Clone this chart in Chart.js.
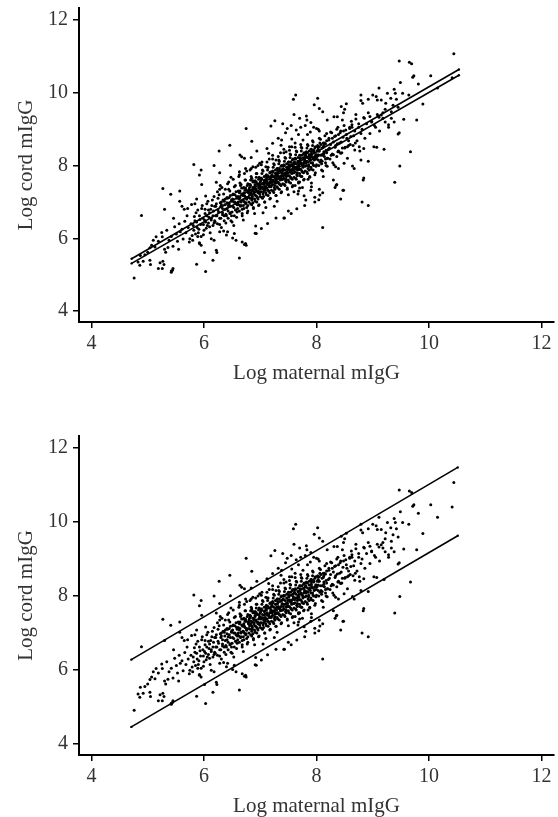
<!DOCTYPE html>
<html>
<head>
<meta charset="utf-8">
<script src="https://cdn.jsdelivr.net/npm/chart.js@4/dist/chart.umd.min.js"></script>
<style>
  html, body { margin: 0; padding: 0; background: #fff; width: 558px; height: 817px; overflow: hidden; }
  canvas { position: absolute; left: 0; }
  #topChart { top: 0; }
  #bottomChart { top: 400px; }
</style>
</head>
<body>
<canvas id="topChart" width="558" height="400"></canvas>
<canvas id="bottomChart" width="558" height="430"></canvas>
<script>
// ── Dati ──────────────────────────────────────
const xTicks = [4, 6, 8, 10, 12];
const yTicks = [4, 6, 8, 10, 12];
const xTitle = 'Log maternal mIgG';
const yTitle = 'Log cord mIgG';

// coda bassa (x < 5.4)
const lowTail = [
  [4.76,4.91],[4.89,6.63],[4.83,5.35],[4.86,5.26],[4.87,5.53],[4.95,5.55],[4.92,5.37],[5.04,5.40],
  [5.05,5.28],[5.04,5.74],[5.07,5.81],[5.13,5.76],[5.15,6.04],[5.19,5.92],[5.25,6.16],[5.26,6.04],
  [5.22,5.33],[5.27,5.37],[5.29,5.28],[5.19,5.17],[5.26,5.17],[5.42,5.07],[5.44,5.12],[5.27,7.37],
  [5.30,6.80],[5.41,7.21],[5.32,5.62],[5.36,5.75],[5.38,5.95],[5.34,6.22],[5.10,5.95],[5.00,5.62]
];

// punti sparsi attorno alla nuvola
const midScatter = [
  [5.57,7.30],[5.57,7.02],[5.61,6.88],[5.71,6.82],[5.78,6.93],[5.87,7.08],[5.96,7.48],[6.03,7.16],
  [6.22,7.54],[6.28,7.35],[5.30,5.70],[5.87,5.29],[6.03,5.09],[6.16,5.40],[6.22,5.67],[6.23,5.61],
  [6.63,5.46],[6.01,5.61],[5.92,5.86],[5.95,5.81],[5.75,5.99],[6.13,5.99],[6.18,5.95],[6.28,6.18],
  [6.40,6.09],[6.42,6.18],[6.51,6.01],[6.54,6.13],[6.57,5.95],[6.68,5.90],[6.72,5.83],[6.75,5.81],
  [6.74,5.86],[6.91,6.14],[6.92,6.34],[6.93,6.13],[7.02,6.27],[7.13,6.41],[7.28,6.56],[7.43,6.56],
  [7.55,6.68],[5.45,5.17],[5.42,5.10]
];

const upperScatter = [
  [5.82,8.03],[5.95,7.88],[5.92,7.74],[6.18,8.00],[6.28,7.80],[6.27,8.40],[6.46,8.56],[6.47,8.01],
  [6.64,8.29],[6.67,8.24],[6.75,9.02],[6.85,8.67],[6.84,8.22],[6.94,8.40],[7.19,9.09],[7.26,9.23],
  [7.32,8.75],[7.38,8.70],[7.22,8.61],[7.56,8.73],[7.59,9.82],[7.63,9.94],[6.72,8.20],[7.12,8.47],
  [7.15,8.34],[7.37,8.56],[7.46,8.38],[7.52,8.52],[6.99,8.06],[7.10,7.97],[7.28,8.15],[6.87,7.97],
  [6.74,7.92],[6.63,7.83],
  [8.02,9.85],[7.82,9.36],[7.96,9.67],[8.05,9.57],[8.11,9.48],[8.19,9.25],[8.31,9.34],[8.37,9.34],
  [8.44,9.62],[8.50,9.55],[8.53,9.70],[8.48,9.45],[8.79,9.94],[8.79,9.79],[8.82,9.71],[8.92,9.82],
  [9.00,9.94],[9.06,9.90],[9.08,9.80],[8.70,9.40],[8.62,9.22],[8.75,9.15],[8.85,9.30],[8.95,9.35],
  [8.98,9.20],[9.05,9.05],[9.11,9.33],[9.15,9.39],[9.18,9.45],[9.22,9.20],[9.28,9.12],[9.33,9.30],
  [7.64,8.98],[7.68,8.85],[7.72,9.05],[7.80,9.10],[7.83,9.25],[7.90,9.18],[7.95,9.05],[7.89,8.92],
  [8.00,9.02],[8.05,8.95],[7.55,9.10],[7.48,9.02],[7.45,8.90],[7.40,9.15],[7.70,9.30],[7.60,9.40]
];

const highTail = [
  [10.44,11.07],[9.47,10.87],[9.65,10.84],[9.69,10.80],[9.73,10.47],[9.71,10.43],[10.03,10.47],
  [10.41,10.41],[10.15,10.13],[9.89,9.69],[9.49,10.28],[9.81,10.24],[9.78,9.25],[9.55,9.27],
  [9.67,8.38],[9.45,8.87],[9.47,8.90],[9.48,7.99],[9.11,10.13],[9.26,9.99],[9.38,10.10],[9.40,9.99],
  [9.53,9.99],[9.64,9.94],[9.23,9.71],[9.36,9.66],[9.42,9.82],[9.32,9.85],[9.15,9.80],[9.39,7.54],
  [9.20,8.45],[9.07,8.50],[9.02,8.52]
];

const lowerScatter = [
  [8.55,8.52],[8.68,8.43],[8.76,8.52],[8.84,8.47],[8.79,8.15],[8.64,7.99],[8.67,7.92],[8.92,8.12],
  [8.43,8.34],[8.49,8.06],[8.34,7.97],[8.39,7.92],[8.83,7.60],[8.84,7.66],[8.81,7.00],[8.92,6.90],
  [8.48,7.32],[8.43,7.08],[8.36,7.48],[8.33,7.40],[8.30,7.60],[8.11,6.30],[7.65,6.81],[7.79,6.90],
  [7.97,7.00],[8.04,7.06],[7.97,7.13],[7.81,7.05],[7.78,7.17],[8.11,7.25],[7.90,7.32],[8.05,7.35],
  [7.67,7.22],[7.68,7.30],[7.42,6.56],[7.50,6.75],[8.47,7.32],[8.35,7.46],[8.06,7.19],[7.91,7.42],
  [7.62,7.45],[7.70,7.55],[7.75,7.40],[7.85,7.62],[7.60,7.28],[7.73,7.70]
];

// nuvola centrale
const coreCloud = [
  [5.42,6.05],[5.45,5.78],[5.48,6.32],[5.51,6.12],[5.53,5.92],[5.56,6.40],[5.58,6.18],[5.46,6.55],[5.55,5.70],
  [5.61,6.25],[5.63,5.98],[5.66,6.47],[5.68,6.15],[5.70,6.62],[5.72,6.30],[5.74,5.90],[5.77,6.40],[5.79,6.08],[5.65,6.80],
  [5.81,6.35],[5.83,6.60],[5.85,6.12],[5.87,6.45],[5.89,6.78],[5.91,6.25],[5.93,6.52],[5.95,6.05],[5.97,6.90],[5.99,6.38],[5.84,6.95],[5.92,5.88],
  [6.01,6.50],[6.02,6.80],[6.04,6.28],[6.05,6.62],[6.07,7.02],[6.08,6.42],[6.10,6.70],[6.11,6.15],[6.13,6.55],[6.14,6.90],[6.16,6.35],[6.17,6.75],[6.18,7.15],[6.19,6.48],
  [6.21,6.62],[6.22,6.95],[6.24,6.40],[6.25,6.78],[6.27,7.20],[6.28,6.55],[6.30,6.88],[6.31,6.30],[6.33,6.70],[6.34,7.05],[6.36,6.48],[6.37,6.92],[6.38,7.35],[6.39,6.66],[6.29,7.45],[6.35,6.20],
  [6.41,6.82],[6.42,7.10],[6.43,6.55],[6.45,6.95],[6.46,7.30],[6.47,6.70],[6.49,7.05],[6.50,6.45],[6.51,6.88],[6.52,7.22],[6.54,6.62],[6.55,7.00],[6.56,7.45],[6.57,6.78],[6.58,7.15],[6.59,6.92],[6.44,7.55],[6.53,6.35],[6.48,7.68],
  [6.61,7.00],[6.62,7.28],[6.63,6.75],[6.64,7.12],[6.65,7.45],[6.66,6.90],[6.67,7.22],[6.68,6.62],[6.69,7.05],[6.70,7.38],[6.71,6.82],[6.72,7.18],[6.73,7.60],[6.74,6.95],[6.75,7.32],[6.76,7.08],[6.77,6.70],[6.78,7.50],[6.79,7.25],[6.63,7.75],[6.70,6.50],[6.76,7.85],
  [6.81,7.20],[6.82,7.48],[6.83,6.95],[6.84,7.32],[6.85,7.65],[6.86,7.10],[6.87,7.40],[6.88,6.82],[6.89,7.25],[6.90,7.55],[6.91,7.02],[6.92,7.36],[6.93,7.78],[6.94,7.15],[6.95,7.50],[6.96,7.28],[6.97,6.90],[6.98,7.68],[6.99,7.42],[6.84,7.92],[6.90,6.68],[6.96,8.00],[6.87,7.58],
  [7.01,7.38],[7.02,7.65],[7.03,7.12],[7.04,7.50],[7.05,7.85],[7.06,7.28],[7.07,7.58],[7.08,7.00],[7.09,7.42],[7.10,7.72],[7.11,7.20],[7.12,7.55],[7.13,7.95],[7.14,7.32],[7.15,7.68],[7.16,7.45],[7.17,7.08],[7.18,7.82],[7.19,7.60],[7.03,8.10],[7.10,6.85],[7.16,8.18],[7.07,7.35],[7.13,7.48],[7.05,6.70],
  [7.21,7.55],[7.22,7.85],[7.23,7.30],[7.24,7.70],[7.25,8.02],[7.26,7.45],[7.27,7.78],[7.28,7.18],[7.29,7.62],[7.30,7.92],[7.31,7.38],[7.32,7.72],[7.33,8.15],[7.34,7.50],[7.35,7.85],[7.36,7.62],[7.37,7.25],[7.38,8.00],[7.39,7.78],[7.22,8.28],[7.30,7.02],[7.36,8.35],[7.27,7.55],[7.33,7.66],[7.25,6.88],
  [7.41,7.72],[7.42,8.02],[7.43,7.48],[7.44,7.88],[7.45,8.20],[7.46,7.62],[7.47,7.95],[7.48,7.35],[7.49,7.80],[7.50,8.10],[7.51,7.55],[7.52,7.90],[7.53,8.32],[7.54,7.68],[7.55,8.02],[7.56,7.80],[7.57,7.42],[7.58,8.18],[7.59,7.95],[7.42,8.45],[7.50,7.20],[7.56,8.52],[7.47,7.72],[7.53,7.85],
  [7.61,7.90],[7.62,8.20],[7.63,7.65],[7.64,8.05],[7.65,8.38],[7.66,7.80],[7.67,8.12],[7.68,7.52],[7.69,7.98],[7.70,8.28],[7.71,7.72],[7.72,8.08],[7.73,8.50],[7.74,7.85],[7.75,8.20],[7.76,7.98],[7.77,7.60],[7.78,8.35],[7.79,8.12],[7.62,8.62],[7.70,7.38],[7.76,8.70],[7.67,7.92],
  [7.81,8.08],[7.82,8.38],[7.83,7.82],[7.84,8.22],[7.85,8.55],[7.86,7.98],[7.87,8.30],[7.88,7.68],[7.89,8.15],[7.90,8.45],[7.91,7.90],[7.92,8.25],[7.93,8.68],[7.94,8.02],[7.95,8.38],[7.96,8.15],[7.97,7.75],[7.98,8.52],[7.99,8.30],[7.84,8.85],[7.91,7.52],
  [8.01,8.25],[8.02,8.55],[8.04,8.00],[8.05,8.40],[8.07,8.72],[8.08,8.15],[8.10,8.48],[8.11,7.85],[8.13,8.32],[8.14,8.62],[8.16,8.08],[8.17,8.42],[8.18,8.88],[8.19,8.20],[8.03,9.00],[8.12,7.70],
  [8.21,8.45],[8.22,8.75],[8.24,8.18],[8.25,8.58],[8.27,8.90],[8.28,8.32],[8.30,8.65],[8.31,8.02],[8.33,8.50],[8.34,8.82],[8.36,8.25],[8.37,8.60],[8.38,9.05],[8.39,8.40],
  [8.41,8.62],[8.43,8.95],[8.45,8.35],[8.47,8.78],[8.49,9.10],[8.51,8.50],[8.53,8.85],[8.55,8.20],[8.57,8.68],[8.59,9.02],[8.46,9.25],
  [8.61,8.80],[8.63,9.12],[8.65,8.55],[8.68,8.95],[8.70,9.28],[8.72,8.68],[8.75,9.05],[8.77,8.40],[8.79,8.88],
  [8.81,9.00],[8.84,9.32],[8.86,8.75],[8.89,9.15],[8.92,9.45],[8.95,8.88],[8.98,9.22],
  [9.03,9.10],[9.08,9.40],[9.12,8.95],[9.18,9.30],[9.22,9.55],[9.28,9.05],[9.33,9.48],[9.38,9.20],[9.45,9.60]
];

// parte più densa della nuvola
const denseCore = [
  [6.31,6.92],[6.33,6.65],[6.36,7.02],[6.38,6.80],
  [6.41,6.98],[6.43,6.75],[6.45,7.12],[6.47,6.88],[6.49,6.62],
  [6.51,7.08],[6.53,6.85],[6.55,7.20],[6.57,6.95],[6.59,6.72],
  [6.61,7.15],[6.62,6.92],[6.64,7.30],[6.66,7.02],[6.68,6.80],[6.69,7.22],
  [6.71,7.25],[6.72,7.00],[6.74,7.38],[6.76,7.12],[6.78,6.90],[6.79,7.30],
  [6.80,7.35],[6.82,7.10],[6.83,7.45],[6.85,7.20],[6.87,6.98],[6.88,7.40],[6.89,7.28],
  [6.91,7.45],[6.92,7.18],[6.93,7.55],[6.95,7.30],[6.96,7.08],[6.98,7.50],[6.99,7.22],
  [7.00,7.55],[7.02,7.28],[7.03,7.62],[7.05,7.40],[7.06,7.15],[7.08,7.60],[7.09,7.32],
  [7.11,7.62],[7.12,7.38],[7.14,7.72],[7.15,7.50],[7.17,7.25],[7.18,7.68],[7.19,7.42],
  [7.20,7.72],[7.22,7.48],[7.23,7.82],[7.25,7.58],[7.26,7.35],[7.28,7.78],[7.29,7.52],
  [7.31,7.80],[7.32,7.55],[7.34,7.92],[7.35,7.68],[7.37,7.45],[7.38,7.88],[7.39,7.62],
  [7.40,7.90],[7.42,7.65],[7.43,8.00],[7.45,7.78],[7.46,7.55],[7.48,7.95],[7.49,7.72],
  [7.51,7.98],[7.52,7.72],[7.54,8.10],[7.55,7.85],[7.57,7.62],[7.58,8.05],[7.59,7.80],
  [7.60,8.08],[7.62,7.82],[7.63,8.18],[7.65,7.95],[7.66,7.72],[7.68,8.12],[7.69,7.90],
  [7.71,8.15],[7.72,7.90],[7.74,8.28],[7.75,8.02],[7.77,7.80],[7.78,8.22],
  [7.80,8.25],[7.82,8.00],[7.84,8.35],[7.85,8.10],[7.87,7.88],[7.89,8.30],
  [7.91,8.32],[7.93,8.08],[7.95,8.42],[7.97,8.18],[7.99,7.98],
  [8.01,8.40],[8.03,8.15],[8.05,8.52],[8.07,8.28],[8.09,8.05],
  [8.12,8.50],[8.14,8.25],[8.16,8.60],[8.18,8.35]
];

// riempimento della nuvola (banda più larga)
const cloudFill = [
  [5.80,5.95],[5.82,6.22],[5.84,6.48],[5.86,6.70],[5.88,6.30],[5.89,6.05],
  [5.90,6.15],[5.92,6.62],[5.94,6.38],[5.96,6.82],[5.98,6.55],[5.99,6.10],
  [6.00,6.22],[6.02,6.68],[6.03,6.45],[6.05,6.95],[6.06,6.35],[6.08,6.78],[6.09,6.58],
  [6.10,6.32],[6.12,6.80],[6.13,6.50],[6.15,7.05],[6.16,6.62],[6.18,6.42],[6.19,6.88],
  [6.20,6.45],[6.21,6.88],[6.23,6.62],[6.25,7.10],[6.26,6.72],[6.28,6.38],[6.29,6.98],[6.24,7.28],
  [6.30,6.55],[6.31,7.00],[6.33,6.82],[6.35,7.22],[6.36,6.62],[6.38,7.08],[6.39,6.42],[6.32,7.40],
  [6.40,6.62],[6.41,7.12],[6.43,6.90],[6.44,7.35],[6.46,6.68],[6.47,7.18],[6.48,6.48],[6.49,7.02],[6.42,7.50],
  [6.50,6.72],[6.51,7.20],[6.53,7.00],[6.54,7.42],[6.56,6.78],[6.57,7.28],[6.58,6.58],[6.59,7.10],[6.52,7.62],
  [6.60,6.82],[6.61,7.30],[6.63,7.08],[6.64,7.52],[6.65,6.88],[6.67,7.38],[6.68,6.68],[6.69,7.18],[6.62,7.70],[6.66,7.00],
  [6.70,6.90],[6.71,7.40],[6.73,7.15],[6.74,7.60],[6.75,6.98],[6.77,7.45],[6.78,6.75],[6.79,7.28],[6.72,7.78],[6.76,7.08],
  [6.80,7.00],[6.81,7.48],[6.83,7.25],[6.84,7.70],[6.85,7.05],[6.87,7.55],[6.88,6.85],[6.89,7.35],[6.82,7.88],[6.86,7.15],
  [6.90,7.08],[6.91,7.58],[6.93,7.32],[6.94,7.78],[6.95,7.12],[6.97,7.62],[6.98,6.92],[6.99,7.45],[6.92,7.95],[6.96,7.25],
  [7.00,7.15],[7.01,7.65],[7.03,7.42],[7.04,7.88],[7.05,7.22],[7.07,7.70],[7.08,7.00],[7.09,7.52],[7.02,8.02],[7.06,7.35],
  [7.10,7.25],[7.11,7.75],[7.13,7.50],[7.14,7.95],[7.15,7.30],[7.17,7.80],[7.18,7.10],[7.19,7.62],[7.12,8.10],[7.16,7.42],
  [7.20,7.32],[7.21,7.82],[7.23,7.60],[7.24,8.05],[7.25,7.40],[7.27,7.88],[7.28,7.18],[7.29,7.70],[7.22,8.18],[7.26,7.52],
  [7.30,7.42],[7.31,7.92],[7.33,7.68],[7.34,8.12],[7.35,7.48],[7.37,7.98],[7.38,7.28],[7.39,7.80],[7.32,8.25],[7.36,7.60],
  [7.40,7.50],[7.41,8.00],[7.43,7.78],[7.44,8.22],[7.45,7.58],[7.47,8.05],[7.48,7.38],[7.49,7.88],[7.42,8.35],[7.46,7.70],
  [7.50,7.60],[7.51,8.10],[7.53,7.88],[7.54,8.30],[7.55,7.65],[7.57,8.15],[7.58,7.45],[7.59,7.98],[7.52,8.42],[7.56,7.78],
  [7.60,7.68],[7.61,8.18],[7.63,7.95],[7.64,8.40],[7.65,7.75],[7.67,8.22],[7.68,7.55],[7.69,8.05],[7.62,8.50],[7.66,7.88],
  [7.70,7.78],[7.71,8.28],[7.73,8.05],[7.74,8.48],[7.75,7.82],[7.77,8.32],[7.78,7.62],[7.79,8.15],[7.72,8.58],[7.76,7.95],
  [7.80,7.85],[7.81,8.35],[7.83,8.12],[7.84,8.58],[7.85,7.92],[7.87,8.40],[7.88,7.70],[7.89,8.22],[7.86,8.02],
  [7.90,7.95],[7.91,8.45],[7.93,8.22],[7.94,8.65],[7.95,8.00],[7.97,8.48],[7.98,7.80],[7.99,8.30],
  [8.00,8.02],[8.02,8.52],[8.03,8.30],[8.05,8.75],[8.06,8.10],[8.08,8.58],[8.09,7.88],[8.04,8.40],
  [8.10,8.12],[8.12,8.62],[8.13,8.38],[8.15,8.82],[8.16,8.18],[8.18,8.68],[8.19,7.98],
  [8.20,8.20],[8.22,8.70],[8.23,8.48],[8.25,8.92],[8.26,8.28],[8.28,8.75],[8.29,8.08],
  [8.30,8.30],[8.32,8.80],[8.34,8.55],[8.36,9.00],[8.38,8.38],[8.39,8.85],
  [8.40,8.38],[8.42,8.90],[8.44,8.65],[8.46,8.48],[8.48,8.95],
  [8.50,8.48],[8.52,8.98],[8.54,8.75],[8.57,8.55],[8.59,9.05],
  [8.60,8.58],[8.63,9.05],[8.66,8.82],[8.69,8.62]
];

// ulteriore densità nel centro (x 6.6–8.2)
const coreExtra = [
  [6.80,7.12],[6.81,7.40],[6.83,7.60],[6.85,6.92],[6.86,7.30],
  [6.90,7.20],[6.91,7.48],[6.93,7.68],[6.94,7.00],[6.97,7.38],
  [7.00,7.28],[7.01,7.58],[7.03,7.78],[7.04,7.10],[7.07,7.48],
  [7.10,7.38],[7.11,7.66],[7.13,7.88],[7.14,7.18],[7.17,7.55],
  [7.20,7.45],[7.21,7.75],[7.23,7.95],[7.24,7.26],[7.27,7.65],
  [7.30,7.55],[7.31,7.85],[7.33,8.05],[7.34,7.35],[7.37,7.72],
  [7.40,7.62],[7.41,7.92],[7.43,8.12],[7.44,7.45],[7.47,7.82],
  [7.50,7.72],[7.51,8.02],[7.53,8.22],[7.54,7.52],[7.57,7.90],
  [7.60,7.80],[7.61,8.10],[7.63,8.30],[7.64,7.62],[7.67,8.00],
  [7.70,7.90],[7.71,8.20],[7.73,8.40],[7.74,7.70],[7.77,8.08],
  [7.80,7.98],[7.81,8.28],[7.83,8.48],[7.84,7.78],[7.87,8.18],
  [7.90,8.08],[7.91,8.38],[7.93,8.55],[7.94,7.88],[7.97,8.25],
  [6.60,6.98],[6.63,7.25],[6.66,7.48],[6.70,7.05],[6.73,7.32],[6.76,6.85],
  [8.00,8.18],[8.03,8.45],[8.06,8.62],[8.10,8.28],[8.13,8.55],[8.17,8.00]
];

// rette: regressione (sopra) e limiti di predizione (sotto)
const fitLineA   = [[4.715,5.44],[10.53,10.64]];
const fitLineB   = [[4.715,5.31],[10.53,10.48]];
const bandUpper  = [[4.71,6.28],[10.51,11.48]];
const bandLower  = [[4.71,4.46],[10.51,9.63]];

const allPoints = [...lowTail, ...midScatter, ...upperScatter, ...highTail, ...lowerScatter,
                   ...coreCloud, ...denseCore, ...cloudFill, ...coreExtra];

// ── Grafico ───────────────────────────────────
const serif = 'Liberation Serif, Times New Roman, serif';

function makeChart(id, lines, padTop, xAxisH, xTitlePadBottom) {
    const lineSets = lines.map(l => ({
        data: l, showLine: true, borderColor: '#000', borderWidth: 1.6,
        pointRadius: 1.2, pointBackgroundColor: '#000', pointBorderWidth: 0
    }));
    return new Chart(document.getElementById(id), {
        type: 'scatter',
        data: {
            datasets: [
                { data: allPoints, pointRadius: 1.5, pointBackgroundColor: '#000', pointBorderWidth: 0, pointHoverRadius: 0 },
                ...lineSets
            ]
        },
        options: {
            responsive: false, animation: false, devicePixelRatio: 1, events: [],
            layout: { padding: { top: padTop, right: 2, left: 0, bottom: 0 } },
            plugins: { legend: { display: false }, tooltip: { enabled: false } },
            scales: {
                x: {
                    type: 'linear', min: 3.78, max: 12.22,
                    afterBuildTicks: s => { s.ticks = xTicks.map(v => ({ value: v })); },
                    afterFit: s => { s.height = xAxisH; s.paddingLeft = 0; s.paddingRight = 0; },
                    border: { display: true, color: '#000', width: 2 },
                    grid: { display: true, drawOnChartArea: false, drawTicks: true, tickLength: 6, color: '#000', lineWidth: 1.5 },
                    ticks: { color: '#333', font: { family: serif, size: 20 }, padding: 4, maxRotation: 0 },
                    title: { display: true, text: xTitle, color: '#333', font: { family: serif, size: 21 }, padding: { top: 0, bottom: xTitlePadBottom } }
                },
                y: {
                    type: 'linear', min: 3.7, max: 12.33,
                    afterBuildTicks: s => { s.ticks = yTicks.map(v => ({ value: v })); },
                    afterFit: s => { s.width = 79; s.paddingTop = 0; s.paddingBottom = 0; },
                    border: { display: true, color: '#000', width: 2 },
                    grid: { display: true, drawOnChartArea: false, drawTicks: true, tickLength: 6, color: '#000', lineWidth: 1.5 },
                    ticks: { color: '#333', font: { family: serif, size: 20 }, padding: 5 },
                    title: { display: true, text: yTitle, color: '#333', font: { family: serif, size: 21 }, padding: { top: 13.4, bottom: 0 } }
                }
            }
        }
    });
}

makeChart('topChart', [fitLineA, fitLineB], 8, 78, 13.7);
makeChart('bottomChart', [bandUpper, bandLower], 36, 75, 10.7);
</script>
</body>
</html>
